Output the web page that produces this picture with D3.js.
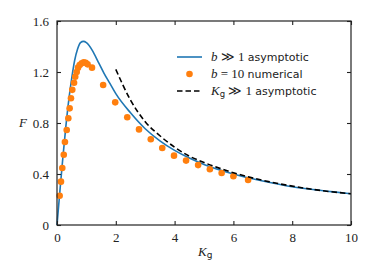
<!DOCTYPE html>
<html>
<head>
<meta charset="utf-8">
<script src="https://cdn.jsdelivr.net/npm/d3@7"></script>
</head>
<body style="margin:0; background:#fff">
<div id="chart"></div>
<script>
// b >> 1 asymptotic curve
var asymK = [0, 0.1, 0.2, 0.3, 0.4, 0.5, 0.6, 0.7, 0.8, 0.9, 1.0, 1.2, 1.4, 1.6, 1.8, 2.0, 2.5, 3.0, 3.5, 4.0, 4.5, 5.0, 6.0, 7.0, 8.0, 9.0, 10];
var asymF = [0, 0.27, 0.53, 0.77, 0.98, 1.15, 1.29, 1.38, 1.43, 1.44, 1.43, 1.37, 1.28, 1.19, 1.11, 1.03, 0.88, 0.755, 0.66, 0.585, 0.525, 0.475, 0.40, 0.345, 0.30, 0.27, 0.245];
// b = 10 numerical points
var numK = [0.09, 0.135, 0.18, 0.23, 0.27, 0.33, 0.385, 0.43, 0.475, 0.52, 0.58, 0.62, 0.67, 0.715, 0.77, 0.84, 0.91, 0.975, 1.04, 1.19, 1.57, 1.98, 2.39, 2.79, 3.19, 3.58, 3.98, 4.39, 4.8, 5.2, 5.6, 6.0, 6.5];
var numF = [0.23, 0.34, 0.447, 0.551, 0.651, 0.745, 0.837, 0.915, 0.994, 1.06, 1.116, 1.163, 1.20, 1.234, 1.255, 1.268, 1.276, 1.273, 1.26, 1.234, 1.098, 0.962, 0.845, 0.75, 0.672, 0.604, 0.544, 0.505, 0.47, 0.437, 0.408, 0.382, 0.353];
// Kg >> 1 asymptotic curve
var largeK = [2.0, 2.5, 3.0, 3.5, 4.0, 4.5, 5.0, 6.0, 7.0, 8.0, 9.0, 10];
var largeF = [1.22, 0.98, 0.81, 0.70, 0.61, 0.54, 0.49, 0.41, 0.35, 0.305, 0.27, 0.245];

var xTicks = [0, 2, 4, 6, 8, 10];
var yTicks = [0, 0.4, 0.8, 1.2, 1.6];
var yTickLabels = ["0", "0.4", "0.8", "1.2", "1.6"];

var width = 374, height = 277;
var plotL = 57, plotR = 351, plotT = 21, plotB = 225;
var blue = "#1f77b4", orange = "#ff7f0e";
var serif = "'Liberation Serif'";
var sans = "'DejaVu Sans'";

var svg = d3.select("#chart").append("svg").attr("width", width).attr("height", height);

var x = d3.scaleLinear().domain([0, 10]).range([plotL, plotR]);
var y = d3.scaleLinear().domain([0, 1.6]).range([plotB, plotT]);

var line = d3.line().x(function(d) { return x(d[0]); }).y(function(d) { return y(d[1]); }).curve(d3.curveMonotoneX);

// curves
svg.append("path")
    .datum(d3.zip(asymK, asymF))
    .attr("d", line)
    .attr("fill", "none")
    .attr("stroke", blue)
    .attr("stroke-width", 1.6);

svg.selectAll("circle.num")
    .data(d3.zip(numK, numF))
    .enter().append("circle")
    .attr("class", "num")
    .attr("cx", function(d) { return x(d[0]); })
    .attr("cy", function(d) { return y(d[1]); })
    .attr("r", 3.3)
    .attr("fill", orange);

svg.append("path")
    .datum(d3.zip(largeK, largeF))
    .attr("d", line)
    .attr("fill", "none")
    .attr("stroke", "#000")
    .attr("stroke-width", 1.6)
    .attr("stroke-dasharray", "5.5,3");

// axes, ticks pointing inward
var tickLen = 4;
var bottomAxis = d3.axisBottom(x).tickValues(xTicks).tickSizeInner(-tickLen).tickSizeOuter(0).tickPadding(8);
var topAxis = d3.axisTop(x).tickValues(xTicks).tickSizeInner(-tickLen).tickSizeOuter(0).tickFormat("");
var leftAxis = d3.axisLeft(y).tickValues(yTicks).tickSizeInner(-tickLen).tickSizeOuter(0).tickPadding(8)
    .tickFormat(function(d, i) { return yTickLabels[i]; });
var rightAxis = d3.axisRight(y).tickValues(yTicks).tickSizeInner(-tickLen).tickSizeOuter(0).tickFormat("");

function styleAxis(g) {
    g.select(".domain").remove();
    g.selectAll("line").attr("stroke", "#222").attr("stroke-width", 1.1);
    g.selectAll("text").style("font-family", serif).style("font-size", "13px").attr("fill", "#222");
}

svg.append("g").attr("transform", "translate(0," + plotB + ")").call(bottomAxis).call(styleAxis);
svg.append("g").attr("transform", "translate(0," + plotT + ")").call(topAxis).call(styleAxis);
svg.append("g").attr("transform", "translate(" + plotL + ",0)").call(leftAxis).call(styleAxis);
svg.append("g").attr("transform", "translate(" + plotR + ",0)").call(rightAxis).call(styleAxis);

svg.append("rect")
    .attr("x", plotL).attr("y", plotT)
    .attr("width", plotR - plotL).attr("height", plotB - plotT)
    .attr("fill", "none").attr("stroke", "#222").attr("stroke-width", 1.2);

// axis labels
svg.append("text")
    .attr("x", 19).attr("y", 127).attr("fill", "#222")
    .style("font-family", serif).style("font-style", "italic").style("font-size", "13px")
    .text("F");

var xl = svg.append("text")
    .attr("x", 198).attr("y", 256).attr("fill", "#222")
    .style("font-family", serif).style("font-size", "13px");
xl.append("tspan").style("font-style", "italic").text("K");
xl.append("tspan").style("font-family", sans).style("font-size", "9px").attr("dy", 2).text("g");

// legend
var legendX = 177, legendW = 25, textX = 211;
var rows = [57, 74, 91];

svg.append("line")
    .attr("x1", legendX).attr("x2", legendX + legendW)
    .attr("y1", rows[0]).attr("y2", rows[0])
    .attr("stroke", blue).attr("stroke-width", 1.6);
svg.append("circle")
    .attr("cx", legendX + legendW / 2).attr("cy", rows[1]).attr("r", 3.3)
    .attr("fill", orange);
svg.append("line")
    .attr("x1", legendX).attr("x2", legendX + legendW)
    .attr("y1", rows[2]).attr("y2", rows[2])
    .attr("stroke", "#000").attr("stroke-width", 1.6)
    .attr("stroke-dasharray", "5.5,3");

function legendText(yy) {
    return svg.append("text").attr("x", textX).attr("y", yy + 4).attr("fill", "#222")
        .style("font-family", serif).style("font-size", "13px");
}

var t1 = legendText(rows[0]);
t1.append("tspan").style("font-style", "italic").text("b");
t1.append("tspan").text(" \u226B 1 ");
t1.append("tspan").style("font-family", sans).style("font-size", "11px").text("asymptotic");

var t2 = legendText(rows[1]);
t2.append("tspan").style("font-style", "italic").text("b");
t2.append("tspan").text(" = 10 ");
t2.append("tspan").style("font-family", sans).style("font-size", "11px").text("numerical");

var t3 = legendText(rows[2]);
t3.append("tspan").style("font-style", "italic").text("K");
t3.append("tspan").style("font-family", sans).style("font-size", "8.5px").attr("dy", 2).text("g");
t3.append("tspan").attr("dy", -2).text(" \u226B 1 ");
t3.append("tspan").style("font-family", sans).style("font-size", "11px").text("asymptotic");
</script>
</body>
</html>
